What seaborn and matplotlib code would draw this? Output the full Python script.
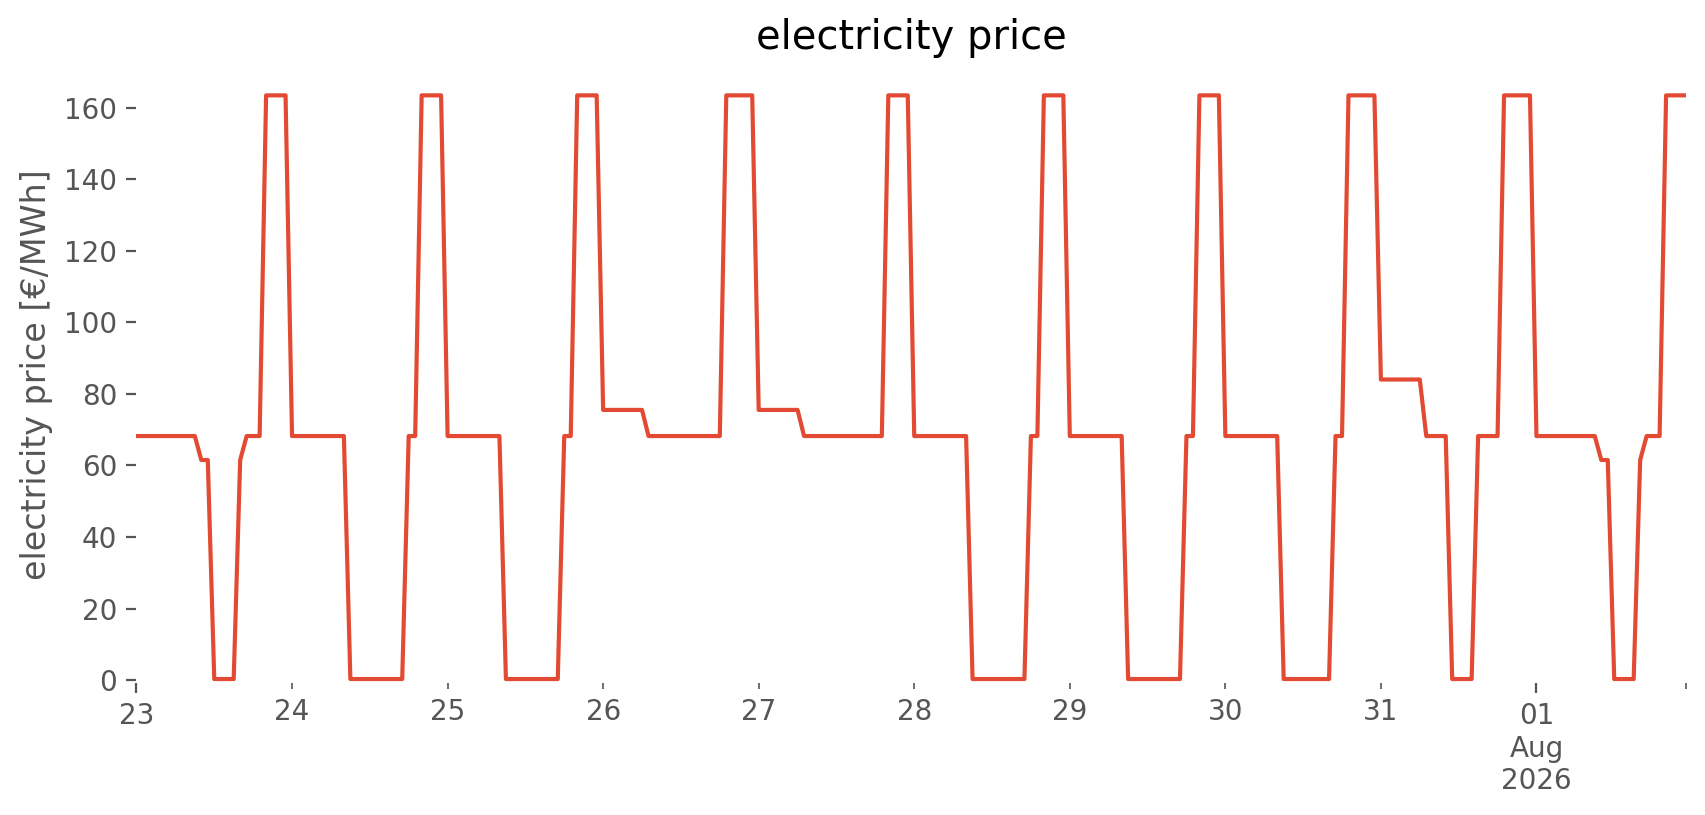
import matplotlib
matplotlib.use('Agg')
import matplotlib.pyplot as plt
import matplotlib.dates as mdates
import pandas as pd
import seaborn as sns

plt.style.use('ggplot')

# hourly electricity price [EUR/MWh], one list per day
jul23 = [68.2, 68.2, 68.2, 68.2, 68.2, 68.2, 68.2, 68.2, 68.2, 68.2, 61.5, 61.5,
         0.3, 0.3, 0.3, 0.3, 61.5, 68.2, 68.2, 68.2, 163.4, 163.4, 163.4, 163.4]
jul24 = [68.2, 68.2, 68.2, 68.2, 68.2, 68.2, 68.2, 68.2, 68.2, 0.3, 0.3, 0.3,
         0.3, 0.3, 0.3, 0.3, 0.3, 0.3, 68.2, 68.2, 163.4, 163.4, 163.4, 163.4]
jul25 = [68.2, 68.2, 68.2, 68.2, 68.2, 68.2, 68.2, 68.2, 68.2, 0.3, 0.3, 0.3,
         0.3, 0.3, 0.3, 0.3, 0.3, 0.3, 68.2, 68.2, 163.4, 163.4, 163.4, 163.4]
jul26 = [75.5, 75.5, 75.5, 75.5, 75.5, 75.5, 75.5, 68.2, 68.2, 68.2, 68.2, 68.2,
         68.2, 68.2, 68.2, 68.2, 68.2, 68.2, 68.2, 163.4, 163.4, 163.4, 163.4, 163.4]
jul27 = [75.5, 75.5, 75.5, 75.5, 75.5, 75.5, 75.5, 68.2, 68.2, 68.2, 68.2, 68.2,
         68.2, 68.2, 68.2, 68.2, 68.2, 68.2, 68.2, 68.2, 163.4, 163.4, 163.4, 163.4]
jul28 = [68.2, 68.2, 68.2, 68.2, 68.2, 68.2, 68.2, 68.2, 68.2, 0.3, 0.3, 0.3,
         0.3, 0.3, 0.3, 0.3, 0.3, 0.3, 68.2, 68.2, 163.4, 163.4, 163.4, 163.4]
jul29 = [68.2, 68.2, 68.2, 68.2, 68.2, 68.2, 68.2, 68.2, 68.2, 0.3, 0.3, 0.3,
         0.3, 0.3, 0.3, 0.3, 0.3, 0.3, 68.2, 68.2, 163.4, 163.4, 163.4, 163.4]
jul30 = [68.2, 68.2, 68.2, 68.2, 68.2, 68.2, 68.2, 68.2, 68.2, 0.3, 0.3, 0.3,
         0.3, 0.3, 0.3, 0.3, 0.3, 68.2, 68.2, 163.4, 163.4, 163.4, 163.4, 163.4]
jul31 = [84.0, 84.0, 84.0, 84.0, 84.0, 84.0, 84.0, 68.2, 68.2, 68.2, 68.2, 0.3,
         0.3, 0.3, 0.3, 68.2, 68.2, 68.2, 68.2, 163.4, 163.4, 163.4, 163.4, 163.4]
aug01 = [68.2, 68.2, 68.2, 68.2, 68.2, 68.2, 68.2, 68.2, 68.2, 68.2, 61.5, 61.5,
         0.3, 0.3, 0.3, 0.3, 61.5, 68.2, 68.2, 68.2, 163.4, 163.4, 163.4, 163.4]

price = jul23 + jul24 + jul25 + jul26 + jul27 + jul28 + jul29 + jul30 + jul31 + aug01

day_labels = ['23', '24', '25', '26', '27', '28', '29', '30', '31', '01\nAug\n2026']
y_ticks = [0, 20, 40, 60, 80, 100, 120, 140, 160]

df = pd.DataFrame({
    'time': pd.date_range('2026-07-23', periods=len(price), freq='h'),
    'price': price,
})

fig, ax = plt.subplots(figsize=(8.53, 4.075), dpi=200)
fig.subplots_adjust(left=0.08, right=0.988, bottom=0.162, top=0.919)

sns.lineplot(data=df, x='time', y='price', ax=ax, color='#E24A33', linewidth=1.5)

ax.set_facecolor('white')
ax.grid(False)
for s in ax.spines.values():
    s.set_visible(False)

ax.set_xlim(df['time'].iloc[0], df['time'].iloc[-1])
ax.set_ylim(-0.8, 171.6)
ax.set_yticks(y_ticks)

# days: first day and month start as major ticks, others as minor
days = pd.date_range('2026-07-23', periods=len(day_labels), freq='D')
major_idx = [0, len(days) - 1]
minor_idx = [i for i in range(len(days)) if i not in major_idx]
ax.set_xticks(mdates.date2num([days[i] for i in major_idx]))
ax.set_xticklabels([day_labels[i] for i in major_idx])
minor_pos = [days[i] for i in minor_idx] + [df['time'].iloc[-1]]
ax.set_xticks(mdates.date2num(minor_pos), minor=True)
ax.set_xticklabels([day_labels[i] for i in minor_idx] + [''], minor=True)
ax.tick_params(axis='x', which='both', colors='#555555')

ax.set_xlabel('')
ax.set_ylabel('electricity price [€/MWh]')
ax.set_title('electricity price', color='black')

fig.savefig('out.png', dpi=200)
